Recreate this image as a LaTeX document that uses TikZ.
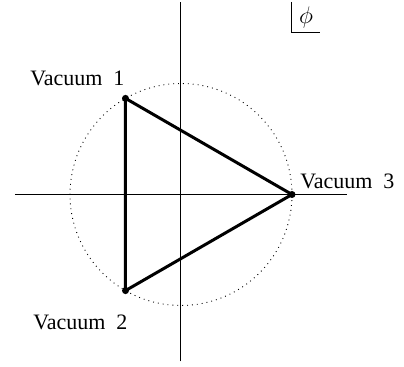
\documentclass[tikz,border=0pt]{standalone}
\usepackage{fontspec}
\setmainfont{Liberation Serif}
\usetikzlibrary{positioning}

\begin{document}
\begin{tikzpicture}[
    x=0.5pt, y=0.5pt,
    every node/.style={font=\fontsize{11}{13}\selectfont, inner sep=0pt},
    axis/.style={line width=0.5pt},
    orbit/.style={dotted, line width=0.45pt},
    edge/.style={line width=1.5pt, line join=round},
    vac/.style={circle, fill=black, inner sep=0pt, minimum size=3.5pt},
    lbl/.style={anchor=west}
]
\useasboundingbox (-181,-172.5) rectangle (223,194.5);
% --- Axes ---
\coordinate (xl) at (-166,0);
\coordinate (xr) at (166,0);
\coordinate (yb) at (0,-167);
\coordinate (yt) at (0,192);
\draw[axis] (xl) -- (xr);
\draw[axis] (yb) -- (yt);

% --- Orbit of vacua ---
\coordinate (o) at (0,0);
\draw[orbit] (o) circle[radius=111];

% --- Vacua ---
\node[vac] (v1) at (120:111) {};
\node[vac] (v2) at (240:111) {};
\node[vac] (v3) at (0:111) {};
\draw[edge] (v1.center) -- (v2.center) -- (v3.center) -- cycle;

\node[lbl] (l1) at (-151,116) {Vacuum~~1};
\node[lbl] (l2) at (-148,-127.5) {Vacuum~~2};
\node[lbl] (l3) at (119,13.5) {Vacuum~~3};

% --- Field label ---
\node[font=\fontsize{13}{15}\selectfont] (phi) at (125,177) {$\phi$};
\coordinate (pt) at (110.7,192.5);
\coordinate (pc) at (110.7,161.5);
\coordinate (pr) at (139,161.5);
\draw[axis] (pt) -- (pc) -- (pr);
\end{tikzpicture}
\end{document}
